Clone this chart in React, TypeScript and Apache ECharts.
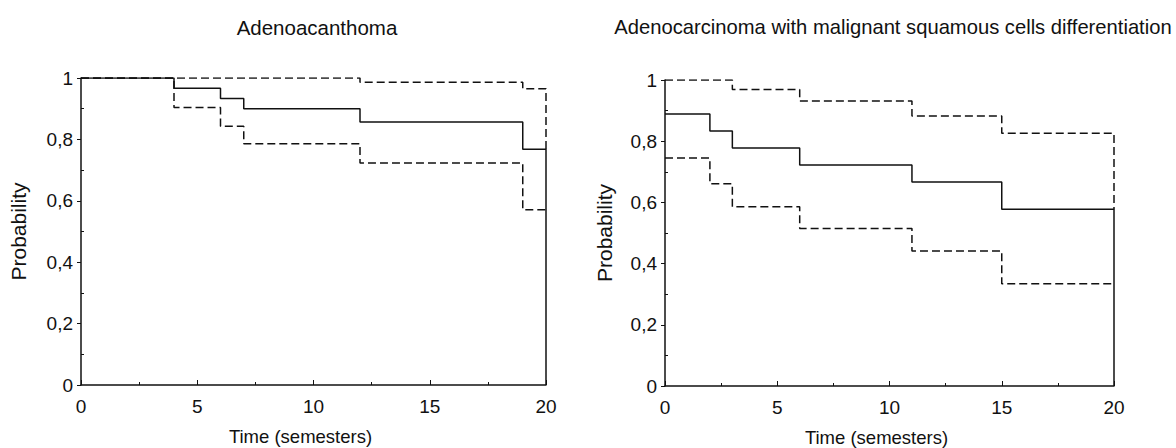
import React, { useEffect, useRef } from "react";
import * as echarts from "echarts";

const titles = ["Adenoacanthoma", "Adenocarcinoma with malignant squamous cells differentiation"];
const yMinorTicks = [0.1, 0.3, 0.5, 0.7, 0.9];

// Left panel: Adenoacanthoma (time, probability) at each step
const leftSurvTime = [0, 4, 6, 7, 12, 19, 20];
const leftSurvProb = [1, 0.967, 0.933, 0.9, 0.857, 0.768, 0];
const leftUpperTime = [0, 12, 19, 20];
const leftUpperProb = [1, 0.986, 0.965, 0.768];
const leftLowerTime = [0, 4, 6, 7, 12, 19, 20];
const leftLowerProb = [1, 0.904, 0.843, 0.786, 0.723, 0.571, 0.571];

// Right panel: Adenocarcinoma with malignant squamous cells differentiation
const rightSurvTime = [0, 2, 3, 6, 11, 15, 20];
const rightSurvProb = [0.889, 0.833, 0.778, 0.722, 0.667, 0.578, 0];
const rightUpperTime = [0, 3, 6, 11, 15, 20];
const rightUpperProb = [1, 0.969, 0.931, 0.882, 0.826, 0.578];
const rightLowerTime = [0, 2, 3, 6, 11, 15, 20];
const rightLowerProb = [0.745, 0.661, 0.586, 0.515, 0.441, 0.334, 0.334];

const zip = (t: number[], p: number[]) => t.map((v, i) => [v, p[i]]);

const INK = "#111";
const FONT = "Liberation Sans, Arial, sans-serif";

export default function App() {
  const ref = useRef<HTMLDivElement>(null);
  useEffect(() => {
    if (!ref.current) return;
    const chart = echarts.init(ref.current, null, { renderer: "svg" });
    const grids = [
      { left: 81, top: 78, width: 465, height: 307, outerBoundsMode: "none", containLabel: false },
      { left: 665, top: 80, width: 449, height: 306, outerBoundsMode: "none", containLabel: false },
    ];
    const xAxis: any[] = grids.map((_, i) => ({
      type: "value",
      gridIndex: i,
      min: 0,
      max: 20,
      interval: 5,
      name: "Time (semesters)",
      nameLocation: "middle",
      nameGap: 42,
      nameTextStyle: { fontSize: 18.5, color: INK, fontFamily: FONT, padding: [0, 26, 0, 0] },
      axisLine: { show: true, lineStyle: { color: INK, width: 1.5 } },
      axisTick: { show: true, inside: true, length: 5, lineStyle: { color: INK, width: 1 } },
      minorTick: { show: true, splitNumber: 2, length: 3, lineStyle: { color: INK, width: 1 } },
      axisLabel: { fontSize: 19, color: INK, fontFamily: FONT, margin: 12 },
      splitLine: { show: false },
    }));
    const yAxis: any[] = [];
    grids.forEach((_, i) => {
      yAxis.push({
        type: "value",
        gridIndex: i,
        position: "left",
        min: 0,
        max: 1,
        interval: 0.2,
        name: "Probability",
        nameLocation: "middle",
        nameGap: i === 0 ? 52 : 50,
        nameTextStyle: { fontSize: 21, color: INK, fontFamily: FONT },
        axisLine: { show: true, lineStyle: { color: INK, width: 1.5 } },
        axisTick: { show: true, inside: false, length: 4, lineStyle: { color: INK, width: 1 } },
        axisLabel: {
          fontSize: 19,
          color: INK,
          fontFamily: FONT,
          margin: 8,
          formatter: (v: number) => String(Math.round(v * 10) / 10).replace(".", ","),
        },
        splitLine: { show: false },
      });
    });
    grids.forEach((_, i) => {
      yAxis.push({
        type: "value",
        gridIndex: i,
        position: "left",
        offset: 0,
        min: 0,
        max: 1,
        axisLine: { show: false },
        axisTick: { show: true, inside: true, length: 3, customValues: yMinorTicks, lineStyle: { color: INK, width: 1 } },
        axisLabel: { show: false },
        splitLine: { show: false },
      });
    });
    const solid = { color: INK, width: 1.5, type: "solid" };
    const dashed = { color: INK, width: 1.5, type: [8, 4] };
    const mk = (data: number[][], idx: number, style: any, z: number) => ({
      type: "line",
      xAxisIndex: idx,
      yAxisIndex: idx,
      step: "end",
      data,
      symbol: "none",
      lineStyle: style,
      z,
      silent: true,
    });
    chart.setOption({
      animation: false,
      backgroundColor: "#fff",
      title: [
        {
          text: titles[0],
          left: 312,
          textAlign: "center",
          top: 12,
          textStyle: { fontSize: 20.5, fontWeight: "normal", color: INK, fontFamily: FONT },
        },
        {
          text: titles[1],
          left: 888,
          textAlign: "center",
          top: 12,
          textStyle: { fontSize: 20.2, fontWeight: "normal", color: INK, fontFamily: FONT },
        },
      ],
      grid: grids,
      xAxis,
      yAxis,
      series: [
        mk(zip(leftUpperTime, leftUpperProb), 0, dashed, 2),
        mk(zip(leftLowerTime, leftLowerProb), 0, dashed, 2),
        mk(zip(leftSurvTime, leftSurvProb), 0, solid, 3),
        mk(zip(rightUpperTime, rightUpperProb), 1, dashed, 2),
        mk(zip(rightLowerTime, rightLowerProb), 1, dashed, 2),
        mk(zip(rightSurvTime, rightSurvProb), 1, solid, 3),
      ],
    });
    return () => chart.dispose();
  }, []);
  return (
    <div
      ref={ref}
      style={{ position: "fixed", left: 0, top: 0, width: 1176, height: 448 }}
    />
  );
}
